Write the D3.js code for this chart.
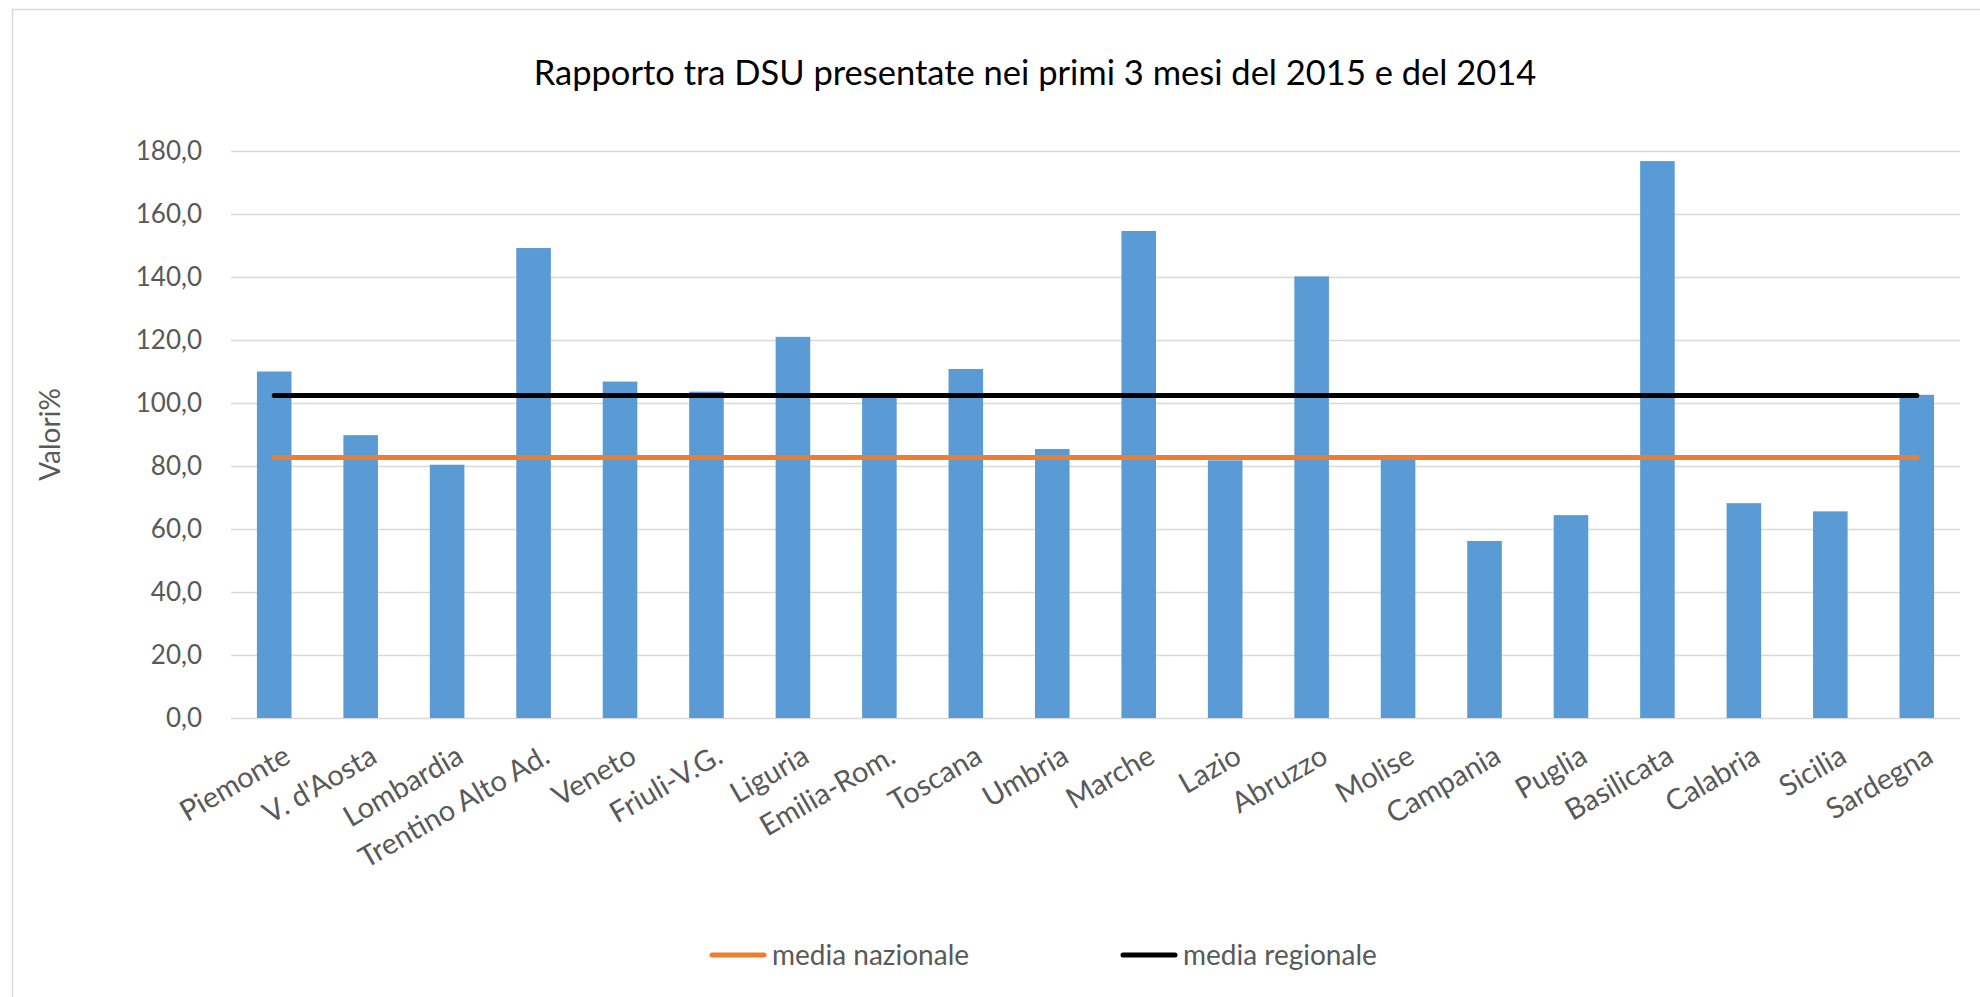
<!DOCTYPE html>
<html>
<head>
<meta charset="utf-8">
<script src="https://cdn.jsdelivr.net/npm/d3@7"></script>
<style>
  html, body { margin: 0; padding: 0; background: #fff; }
  svg { display: block; }
  text { font-family: Lato, "Open Sans", sans-serif; }
</style>
</head>
<body>
<div id="chart"></div>
<script>
// Data
const regioni = ['Piemonte', "V. d'Aosta", 'Lombardia', 'Trentino Alto Ad.', 'Veneto', 'Friuli-V.G.',
  'Liguria', 'Emilia-Rom.', 'Toscana', 'Umbria', 'Marche', 'Lazio', 'Abruzzo', 'Molise',
  'Campania', 'Puglia', 'Basilicata', 'Calabria', 'Sicilia', 'Sardegna'];
const rapporto = [110.0, 89.8, 80.4, 149.2, 106.8, 103.6, 121.0, 101.8, 110.8, 85.4,
  154.6, 81.8, 140.2, 82.0, 56.2, 64.4, 176.8, 68.2, 65.6, 102.6];
const mediaNazionale = 82.7;
const mediaRegionale = 102.4;
const yTicks = [0, 20, 40, 60, 80, 100, 120, 140, 160, 180];

const titolo = 'Rapporto tra DSU presentate nei primi 3 mesi del 2015 e del 2014';
const legenda = [
  { label: 'media nazionale', value: mediaNazionale, color: '#ED7D31' },
  { label: 'media regionale', value: mediaRegionale, color: '#000000' }
];

const width = 1980, height = 997;
const plot = { left: 231, right: 1960, top: 151, bottom: 718 };

const svg = d3.select('#chart').append('svg')
  .attr('width', width)
  .attr('height', height);

// Chart area border
svg.append('rect')
  .attr('x', 12.5).attr('y', 9.5)
  .attr('width', width + 20).attr('height', height + 20)
  .attr('fill', '#fff')
  .attr('stroke', '#d9d9d9')
  .attr('stroke-width', 1.5);

const x = d3.scaleBand()
  .domain(regioni)
  .range([plot.left, plot.right])
  .paddingInner(0.6)
  .paddingOuter(0.3);

const y = d3.scaleLinear()
  .domain([0, 180])
  .range([plot.bottom, plot.top]);

const fmt = v => d3.format('.1f')(v).replace('.', ',');

// Gridlines + tick labels
const yAxis = d3.axisLeft(y)
  .tickValues(yTicks)
  .tickSize(-(plot.right - plot.left))
  .tickPadding(29)
  .tickFormat(fmt);

const gy = svg.append('g')
  .attr('transform', `translate(${plot.left},0)`)
  .call(yAxis);
gy.select('.domain').remove();
gy.selectAll('line').attr('stroke', '#d9d9d9').attr('stroke-width', 1.5);
gy.selectAll('text')
  .attr('fill', '#595959')
  .style('font-size', '26px');

// Bars
svg.append('g').selectAll('rect')
  .data(regioni)
  .join('rect')
  .attr('x', d => x(d))
  .attr('y', (d, i) => y(rapporto[i]))
  .attr('width', x.bandwidth())
  .attr('height', (d, i) => y(0) - y(rapporto[i]))
  .attr('fill', '#5B9BD5');

// Average lines
const line = d3.line()
  .x(d => x(d.regione) + x.bandwidth() / 2)
  .y(d => y(d.value));

legenda.forEach(s => {
  svg.append('path')
    .datum(regioni.map(r => ({ regione: r, value: s.value })))
    .attr('d', line)
    .attr('fill', 'none')
    .attr('stroke', s.color)
    .attr('stroke-width', 5)
    .attr('stroke-linecap', 'round');
});

// X labels
svg.append('g').selectAll('text')
  .data(regioni)
  .join('text')
  .attr('transform', d => `translate(${x(d) + x.bandwidth() / 2 + 8},${plot.bottom + 26}) rotate(-30)`)
  .attr('text-anchor', 'end')
  .attr('dy', '0.7em')
  .attr('fill', '#595959')
  .style('font-size', '29px')
  .text(d => d);

// Y axis title
svg.append('text')
  .attr('transform', `translate(60,${(plot.top + plot.bottom) / 2}) rotate(-90)`)
  .attr('text-anchor', 'middle')
  .attr('fill', '#595959')
  .style('font-size', '28px')
  .text('Valori%');

// Title
svg.append('text')
  .attr('x', 1035)
  .attr('y', 85)
  .attr('text-anchor', 'middle')
  .attr('fill', '#000')
  .style('font-size', '34.5px')
  .text(titolo);

// Legend
const legendX = [710, 1121];
legenda.forEach((s, i) => {
  const g = svg.append('g').attr('transform', `translate(${legendX[i]},955)`);
  g.append('line')
    .attr('x1', 2).attr('x2', 54)
    .attr('stroke', s.color)
    .attr('stroke-width', 5)
    .attr('stroke-linecap', 'round');
  g.append('text')
    .attr('x', 62)
    .attr('dy', '0.35em')
    .attr('fill', '#595959')
    .style('font-size', '28px')
    .text(s.label);
});
</script>
</body>
</html>
